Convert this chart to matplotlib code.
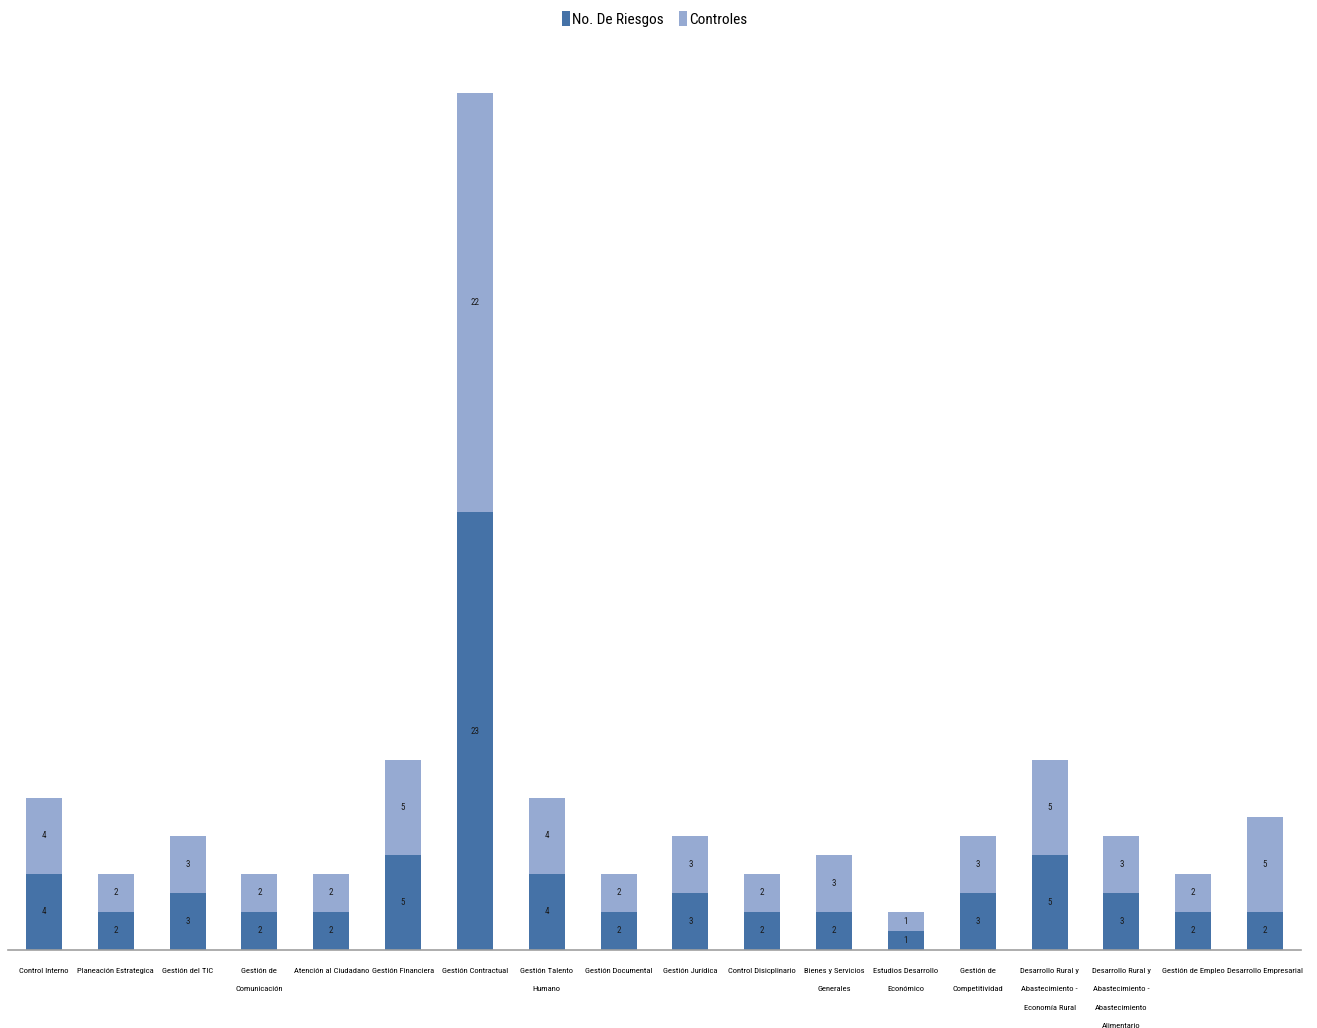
import matplotlib.pyplot as plt
import numpy as np
from matplotlib import font_manager
from matplotlib.font_manager import FontProperties

categories = [
    "Control Interno", "Planeación Estrategica", "Gestión del TIC",
    "Gestión de\nComunicación", "Atención al Ciudadano", "Gestión Financiera",
    "Gestión Contractual", "Gestión Talento\nHumano", "Gestión Documental",
    "Gestión Jurídica", "Control Disicplinario", "Bienes y Servicios\nGenerales",
    "Estudios Desarrollo\nEconómico", "Gestión de\nCompetitividad",
    "Desarrollo Rural y\nAbastecimiento -\nEconomía Rural",
    "Desarrollo Rural y\nAbastecimiento -\nAbastecimiento\nAlimentario",
    "Gestión de Empleo", "Desarrollo Empresarial",
]
riesgos = [4, 2, 3, 2, 2, 5, 23, 4, 2, 3, 2, 2, 1, 3, 5, 3, 2, 2]
controles = [4, 2, 3, 2, 2, 5, 22, 4, 2, 3, 2, 3, 1, 3, 5, 3, 2, 5]


def pick_narrow_font():
    # look for a condensed / narrow face, like the Calibri-ish text of the original
    prefs = ["Liberation Sans Narrow", "Roboto Condensed", "Open Sans Condensed",
             "Noto Sans Condensed", "DejaVu Sans Condensed"]
    fonts = [f for f in font_manager.fontManager.ttflist
             if f.style == "normal" and f.weight in (400, "normal", "regular")]
    for p in prefs:
        for f in fonts:
            if f.name == p:
                return f.fname, True
    for f in fonts:
        if "Narrow" in f.name or "Condensed" in f.name or "condensed" in str(f.stretch):
            return f.fname, True
    return None, False


fname, narrow = pick_narrow_font()
if fname:
    prop = FontProperties(fname=fname)
else:
    prop = FontProperties(family=["Liberation Sans", "DejaVu Sans"])

C_RIESGOS = "#4572a7"
C_CONTROLES = "#96aad2"

fig = plt.figure(figsize=(13.17, 10.28), dpi=100)
ax = fig.add_axes([8 / 1317, 1 - 950 / 1028, 1293 / 1317, 912 / 1028])

x = np.arange(len(categories))
r = np.array(riesgos)
c = np.array(controles)
b1 = ax.bar(x, r, 0.5, color=C_RIESGOS, label="No. De Riesgos")
b2 = ax.bar(x, c, 0.5, bottom=r, color=C_CONTROLES, label="Controles")

lbl = prop.copy()
lbl.set_size(6.5 if narrow else 6)
for i in range(len(x)):
    ax.text(x[i], r[i] / 2, str(r[i]), ha="center", va="center", fontproperties=lbl, color="#1a1a1a")
    ax.text(x[i], r[i] + c[i] / 2, str(c[i]), ha="center", va="center", fontproperties=lbl, color="#1a1a1a")

tick = prop.copy()
tick.set_size(6.1 if narrow else 5.2)
ax.set_xlim(-0.5, len(x) - 0.5)
ax.set_ylim(0, 47.9)
ax.set_xticks(x)
ax.set_xticklabels(categories, fontproperties=tick, linespacing=3.45, va="top")
ax.tick_params(axis="x", length=0, pad=13)
ax.set_yticks([])
for s in ["top", "right", "left"]:
    ax.spines[s].set_visible(False)
ax.spines["bottom"].set_color("#a0a0a0")
ax.spines["bottom"].set_linewidth(1.2)

leg = prop.copy()
leg.set_size(11 if narrow else 10)
fig.legend(handles=[b1, b2], loc="upper center", bbox_to_anchor=(0.497, 1.003), ncol=2,
           frameon=False, prop=leg, handlelength=0.5, handleheight=1.2,
           handletextpad=0.15, columnspacing=1.0)

fig.savefig("out.png", dpi=100)
